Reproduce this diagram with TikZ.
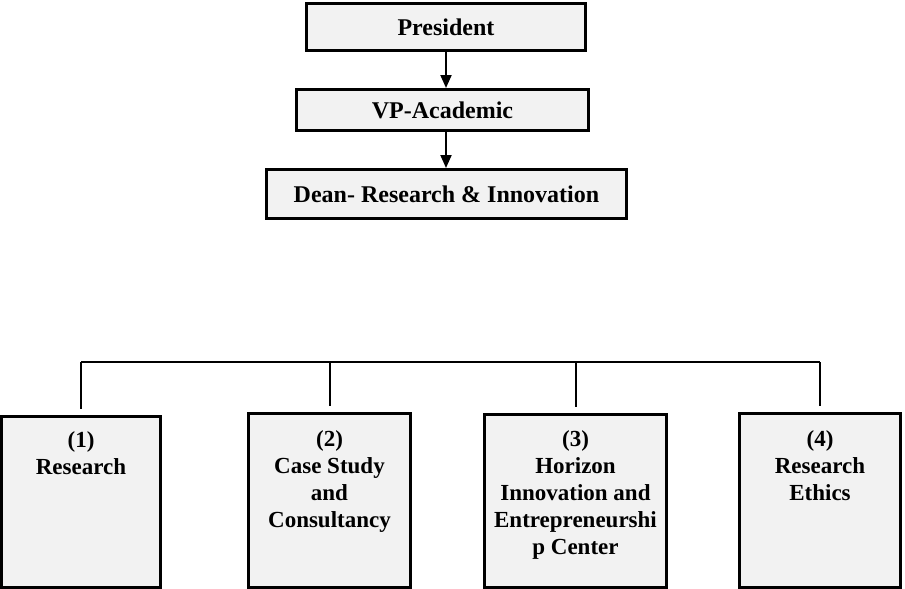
\documentclass[tikz,border=0pt]{standalone}
\usepackage{fontspec}
\setmainfont{Liberation Serif}
\usepackage{xcolor}
\usepackage{tikz}
\usetikzlibrary{arrows.meta,positioning,calc}
\definecolor{boxgray}{HTML}{F2F2F2}
\newcommand{\unittext}[2]{\parbox[c][140pt][t]{#1pt}{\centering #2}}

\begin{document}
\begin{tikzpicture}[x=1pt,y=-1pt,
    headbox/.style={draw,line width=3pt,fill=boxgray,inner sep=0pt,
      font=\bfseries\fontsize{24}{28}\selectfont},
    unitbox/.style={draw,line width=3pt,fill=boxgray,inner sep=0pt,
      font=\bfseries\fontsize{23}{27}\selectfont},
    arr/.style={-{Triangle[length=13pt,width=11pt]},line width=2pt},
    link/.style={line width=2pt}]
    \useasboundingbox (0,0) rectangle (905,589);

    % Top of the chart
    \node[headbox,minimum width=279,minimum height=47] (pres) at (446,27) {President};
    \node[headbox,minimum width=292,minimum height=41] (vp) at (442.5,110) {VP-Academic};
    \node[headbox,minimum width=360,minimum height=49] (dean) at (446.5,194) {Dean- Research \& Innovation};

    % Arrows down
    \draw[arr] (pres.south) -- (vp.north -| pres.south);
    \draw[arr] (vp.south -| pres.south) -- (dean.north -| pres.south);

    % Units
    \node[unitbox,minimum width=159,minimum height=171] (unitA) at (81,502)
      {\unittext{150}{(1)\\Research}};
    \node[unitbox,minimum width=162,minimum height=174] (unitB) at (329.5,500.5)
      {\unittext{152}{(2)\\Case Study\\and\\Consultancy}};
    \node[unitbox,minimum width=182,minimum height=173] (unitC) at (575.5,501)
      {\unittext{172}{(3)\\Horizon\\Innovation and\\Entrepreneurshi\\p Center}};
    \node[unitbox,minimum width=161,minimum height=174] (unitD) at (820,500.5)
      {\unittext{151}{(4)\\Research\\Ethics}};

    % Bus line and drops
    \coordinate (bus) at (0,362);
    \draw[link] (unitA.north |- bus) -- (unitD.north |- bus);
    \foreach \u in {unitA,unitB,unitC,unitD}
      \draw[link] (\u.north |- bus) -- ([yshift=6pt]\u.north);
\end{tikzpicture}
\end{document}
